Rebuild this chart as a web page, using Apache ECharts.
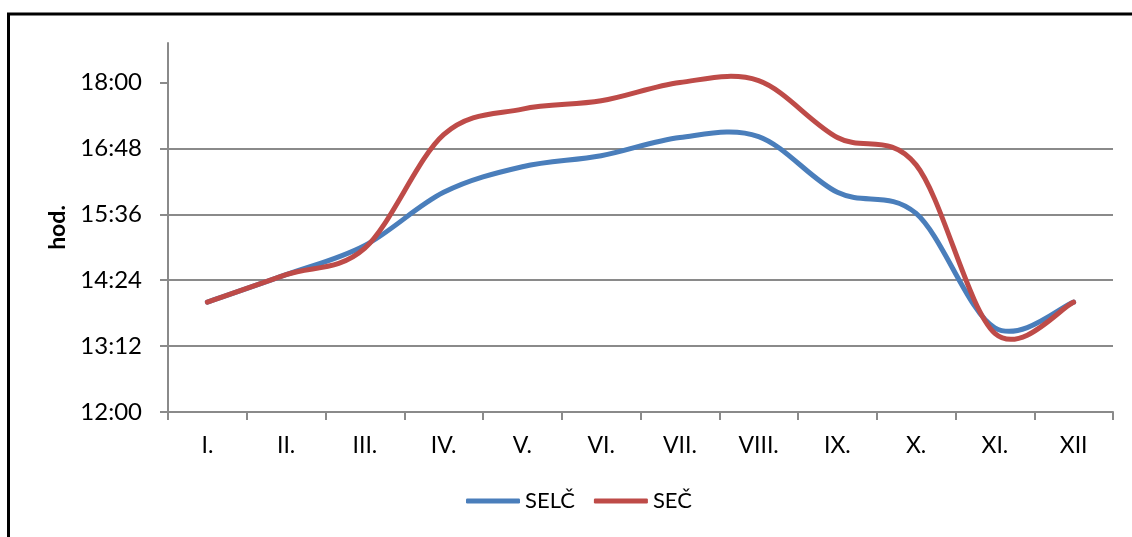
<!DOCTYPE html>
<html>
<head>
	<meta charset="utf-8">
	<title>SELČ / SEČ</title>
	<style>
		html, body {
			margin: 0;
			padding: 0;
			background-color: #fff;
		}
		#chart {
			width: 1132px;
			height: 537px;
		}
	</style>
</head>
<body>
	<div id="chart"></div>

<script src="https://cdn.jsdelivr.net/npm/echarts@6/dist/echarts.min.js"></script>
<script>
	// měsíce
	var months = ['I.', 'II.', 'III.', 'IV.', 'V.', 'VI.', 'VII.', 'VIII.', 'IX.', 'X.', 'XI.', 'XII'];
	// letní čas
	var selc = ['14:00', '14:30', '15:02', '16:00', '16:28', '16:40', '17:00', '17:01', '16:00', '15:37', '13:32', '14:00'];
	// zimní (standardní) čas
	var sec = ['14:00', '14:30', '14:59', '17:03', '17:31', '17:40', '18:00', '18:02', '17:00', '16:30', '13:26', '14:00'];
	// popisky osy y
	var yTicks = ['12:00', '13:12', '14:24', '15:36', '16:48', '18:00'];
	var yMin = '12:00';

	function toMin(s) {
		var p = s.split(':');
		return parseInt(p[0], 10) * 60 + parseInt(p[1], 10);
	}
	function toTime(m) {
		var h = Math.floor(m / 60);
		var mm = Math.round(m - h * 60);
		return h + ':' + (mm < 10 ? '0' + mm : mm);
	}

	var tickVals = yTicks.map(toMin);
	var font = 'Lato, "Open Sans", sans-serif';
	var gray = '#8a8a8a';

	// vyhlazená čára jako v Excelu (Catmull-Rom), body přes api.coord
	function smoothLine(name, values, color) {
		var vals = values.map(toMin);
		return {
			name: name,
			type: 'custom',
			coordinateSystem: 'cartesian2d',
			itemStyle: { color: color },
			encode: { x: 0, y: 1 },
			data: vals.map(function (v, i) { return [i, v]; }),
			renderItem: function (params, api) {
				if (params.dataIndex !== 0) return null;
				var pts = vals.map(function (v, i) { return api.coord([i, v]); });
				var d = 'M' + pts[0][0] + ',' + pts[0][1];
				for (var i = 0; i < pts.length - 1; i++) {
					var p0 = pts[i - 1] || pts[i];
					var p1 = pts[i];
					var p2 = pts[i + 1];
					var p3 = pts[i + 2] || pts[i + 1];
					var c1x = p1[0] + (p2[0] - p0[0]) / 6;
					var c1y = p1[1] + (p2[1] - p0[1]) / 6;
					var c2x = p2[0] - (p3[0] - p1[0]) / 6;
					var c2y = p2[1] - (p3[1] - p1[1]) / 6;
					d += ' C' + c1x + ',' + c1y + ' ' + c2x + ',' + c2y + ' ' + p2[0] + ',' + p2[1];
				}
				return {
					type: 'path',
					shape: { pathData: d },
					style: { fill: 'none', stroke: color, lineWidth: 5, lineCap: 'round', lineJoin: 'round' }
				};
			}
		};
	}

	var option = {
		animation: false,
		backgroundColor: '#fff',
		textStyle: { fontFamily: font },
		graphic: [{
			type: 'rect',
			shape: { x: 8.5, y: 14, width: 1300, height: 700 },
			style: { fill: 'none', stroke: '#000', lineWidth: 3 },
			silent: true
		}],
		grid: {
			left: 168,
			right: 19,
			top: 43,
			bottom: 125
		},
		legend: {
			left: 466,
			top: 490,
			padding: 0,
			icon: 'roundRect',
			itemWidth: 54,
			itemHeight: 5,
			itemGap: 19,
			textStyle: { fontFamily: font, fontSize: 22, color: '#000' },
			data: ['SELČ', 'SEČ']
		},
		xAxis: {
			type: 'category',
			data: months,
			boundaryGap: true,
			axisLine: { lineStyle: { color: gray, width: 2 } },
			axisTick: { show: true, length: 8, lineStyle: { color: gray, width: 2 } },
			axisLabel: { color: '#000', fontSize: 23, margin: 22, fontFamily: font },
			splitLine: { show: false }
		},
		yAxis: {
			type: 'value',
			min: toMin(yMin),
			max: 1123.2, // Excel max 0.78 dne
			interval: 72,
			name: 'hod.',
			nameLocation: 'middle',
			nameGap: 98,
			nameRotate: 90,
			nameTextStyle: { fontWeight: 'bold', fontSize: 23, color: '#000', fontFamily: font },
			axisLine: { show: true, lineStyle: { color: gray, width: 2 } },
			axisTick: { show: true, length: 8, lineStyle: { color: gray, width: 2 }, customValues: tickVals },
			axisLabel: {
				color: '#000',
				fontSize: 24,
				margin: 26,
				fontFamily: font,
				customValues: tickVals,
				formatter: function (v) { return toTime(v); }
			},
			splitLine: { show: true, showMaxLine: false, lineStyle: { color: gray, width: 2 } }
		},
		series: [
			smoothLine('SELČ', selc, '#4A7EBB'),
			smoothLine('SEČ', sec, '#BE4B48')
		]
	};

	var myChart = echarts.init(document.getElementById('chart'));
	myChart.setOption(option);
</script>
</body>
</html>
